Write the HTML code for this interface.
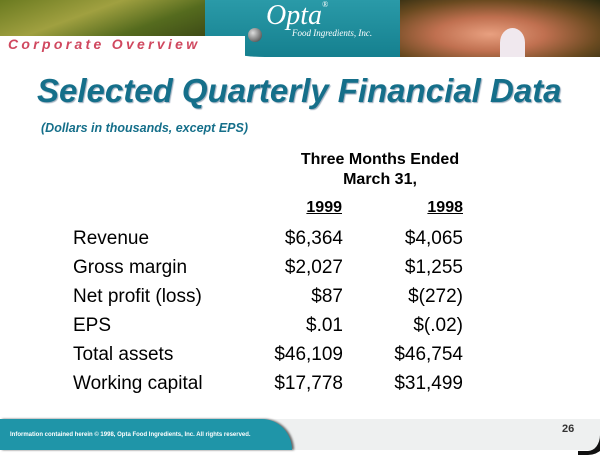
<!DOCTYPE html>
<html><head><style>
body{margin:0;width:600px;height:450px;position:relative;background:#fff;font-family:"Liberation Sans",sans-serif;overflow:hidden}
.a{position:absolute}
.r{position:absolute;font-size:19px;color:#000}
</style></head><body>
<div class="a" style="left:0;top:0;width:210px;height:36px;background:linear-gradient(160deg,#6a7a20,#a0a040 40%,#556b1e 70%,#3d4a16)"></div>
<div class="a" style="left:205px;top:0;width:200px;height:57px;background:linear-gradient(180deg,#2a9aa8,#15808f);border-bottom-left-radius:60px 20px"></div>
<div class="a" style="left:0;top:36px;width:245px;height:21px;background:#fff"></div>
<div class="a" style="left:8px;top:36px;font-size:14px;font-weight:bold;font-style:italic;color:#d0485f;letter-spacing:3.3px">Corporate Overview</div>
<div class="a" style="left:248px;top:28px;width:14px;height:14px;border-radius:50%;background:radial-gradient(circle at 35% 35%,#ddd,#333)"></div>
<div class="a" style="left:266px;top:0px;font-family:'Liberation Serif',serif;font-style:italic;font-size:28px;color:#fff">Opta<span style="font-size:8px;vertical-align:top">®</span></div>
<div class="a" style="left:292px;top:28px;font-family:'Liberation Serif',serif;font-style:italic;font-size:9px;color:#fff">Food Ingredients, Inc.</div>
<div class="a" style="left:400px;top:0;width:200px;height:57px;background:radial-gradient(ellipse at 45% 60%,#e8a080,#c07050 35%,#6a4a20 70%,#2a2a10)"></div>
<div class="a" style="left:500px;top:28px;width:25px;height:29px;border-radius:50% 50% 0 0;background:#f0e8ee"></div>
<div class="a" style="left:37px;top:72px;font-size:33px;font-weight:bold;font-style:italic;color:#156f8a;text-shadow:1px 1px 1px #9ab">Selected Quarterly Financial Data</div>
<div class="a" style="left:41px;top:121px;font-size:12.5px;font-weight:bold;font-style:italic;color:#156f8a">(Dollars in thousands, except EPS)</div>
<div class="a" style="left:260px;top:150px;width:240px;text-align:center;font-size:16px;font-weight:bold;line-height:20px">Three Months Ended<br>March 31,</div>
<div class="r" style="right:258px;top:199px;font-weight:bold;font-size:16px;text-decoration:underline">1999</div>
<div class="r" style="right:137px;top:199px;font-weight:bold;font-size:16px;text-decoration:underline">1998</div>
<div class="r" style="left:73px;top:224px;line-height:29px">Revenue<br>Gross margin<br>Net profit (loss)<br>EPS<br>Total assets<br>Working capital</div>
<div class="r" style="right:257px;top:224px;line-height:29px;text-align:right">$6,364<br>$2,027<br>$87<br>$.01<br>$46,109<br>$17,778</div>
<div class="r" style="right:137px;top:224px;line-height:29px;text-align:right">$4,065<br>$1,255<br>$(272)<br>$(.02)<br>$46,754<br>$31,499</div>
<div class="a" style="left:0;top:419px;width:600px;height:31px;background:#eef0f0"></div>
<div class="a" style="left:0;top:419px;width:292px;height:31px;background:#1f95a8;border-top-right-radius:30px 31px;box-shadow:2px 0 2px #666"></div>
<div class="a" style="left:10px;top:432px;font-size:6px;color:#fff;font-weight:bold">Information contained herein © 1998, Opta Food Ingredients, Inc. All rights reserved.</div>
<div class="a" style="left:562px;top:423px;font-size:11px;font-weight:bold;color:#333">26</div>
<div class="a" style="left:578px;top:405px;width:30px;height:50px;border-bottom-right-radius:20px;border-right:8px solid #111;border-bottom:4px solid #111;box-sizing:border-box"></div>
</body></html>
